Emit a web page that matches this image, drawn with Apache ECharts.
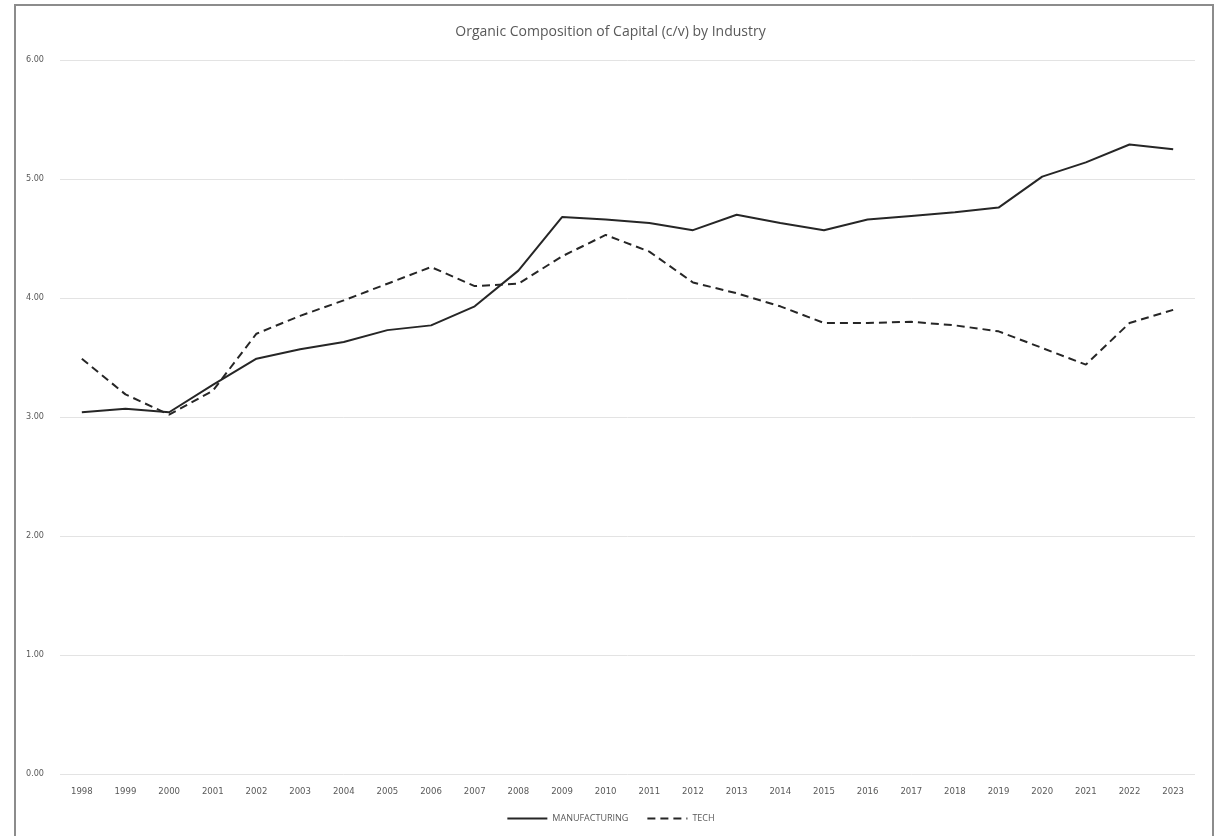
<!DOCTYPE html>
<html>
<head>
<meta charset="utf-8">
<script src="https://cdn.jsdelivr.net/npm/echarts@6/dist/echarts.min.js"></script>
<style>html,body{margin:0;padding:0;background:#fff;}#chart{width:1221px;height:836px;}</style>
</head>
<body>
<div id="chart"></div>
<script>
const years = ['1998','1999','2000','2001','2002','2003','2004','2005','2006','2007','2008','2009','2010','2011','2012','2013','2014','2015','2016','2017','2018','2019','2020','2021','2022','2023'];
const manufacturing = [3.04,3.07,3.04,3.27,3.49,3.57,3.63,3.73,3.77,3.93,4.23,4.68,4.66,4.63,4.57,4.70,4.63,4.57,4.66,4.69,4.72,4.76,5.02,5.14,5.29,5.25];
const tech = [3.49,3.19,3.02,3.22,3.70,3.85,3.98,4.12,4.26,4.10,4.12,4.35,4.53,4.39,4.13,4.04,3.93,3.79,3.79,3.80,3.77,3.72,3.58,3.44,3.79,3.90];
const yTicks = [0,1,2,3,4,5,6];

const chart = echarts.init(document.getElementById('chart'));
chart.setOption({
  backgroundColor: '#fff',
  animation: false,
  title: {
    text: 'Organic Composition of Capital (c/v) by Industry',
    left: 'center', top: 20,
    textStyle: { fontFamily: 'Open Sans', fontSize: 14, fontWeight: 'normal', color: '#595959' }
  },
  graphic: [{
    type: 'rect', shape: { x: 15, y: 5, width: 1198, height: 840 },
    style: { fill: 'none', stroke: '#8c8c8c', lineWidth: 2 }, silent: true, z: -1
  }],
  grid: { left: 60, right: 26, top: 60, bottom: 62, containLabel: false },
  legend: {
    bottom: 8, left: 'center',
    itemWidth: 40, itemHeight: 10, itemGap: 18,
    itemStyle: { opacity: 0 },
    textStyle: { fontFamily: 'Open Sans', fontSize: 9, color: '#595959' },
    data: ['MANUFACTURING', 'TECH']
  },
  xAxis: {
    type: 'category', data: years, boundaryGap: true,
    axisLine: { show: false }, axisTick: { show: false },
    axisLabel: { fontFamily: 'DejaVu Sans Condensed', fontSize: 9.5, color: '#595959', margin: 13, interval: 0 }
  },
  yAxis: {
    type: 'value', min: yTicks[0], max: yTicks[yTicks.length - 1], interval: 1,
    axisLine: { show: false }, axisTick: { show: false },
    axisLabel: { fontFamily: 'DejaVu Sans Condensed', fontSize: 9, color: '#595959', margin: 16, formatter: v => v.toFixed(2) },
    splitLine: { lineStyle: { color: '#e3e3e3', width: 1 } }
  },
  series: [
    { name: 'MANUFACTURING', type: 'line', data: manufacturing, symbol: 'none', showSymbol: false,
      lineStyle: { color: '#262626', width: 2 }, itemStyle: { color: '#262626' } },
    { name: 'TECH', type: 'line', data: tech, symbol: 'none', showSymbol: false,
      lineStyle: { color: '#262626', width: 2, type: [8, 5] }, itemStyle: { color: '#262626' } }
  ]
});
</script>
</body>
</html>
